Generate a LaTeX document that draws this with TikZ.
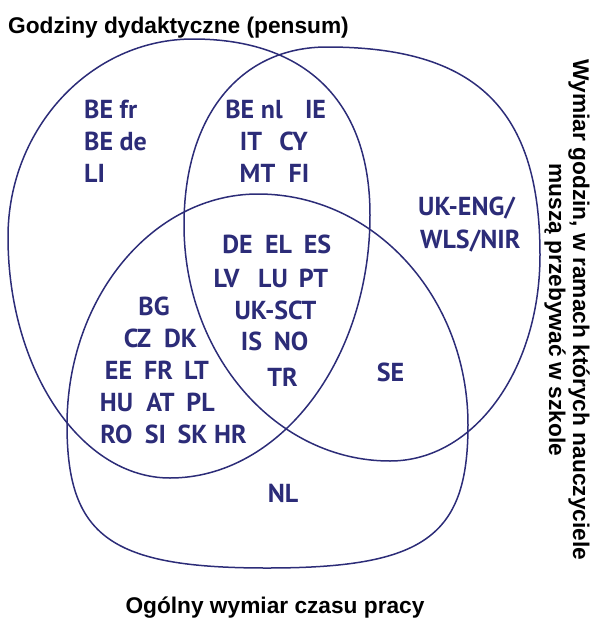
\documentclass[tikz,border=0pt]{standalone}
\usepackage{fontspec}
\setmainfont{Liberation Sans}
\newfontfamily\codefont{PT Sans}
\definecolor{navy}{RGB}{44,44,120}
\begin{document}
\begin{tikzpicture}[x=1pt,y=-1pt,
  venn/.style={draw=navy, line width=1.5pt},
  code/.style={text=navy, font=\codefont\bfseries\fontsize{26}{30}\selectfont, inner sep=0pt, anchor=base},
  codeL/.style={code, anchor=base west},
  heading/.style={font=\bfseries\fontsize{22.7}{26}\selectfont, inner sep=0pt}]
\useasboundingbox (0,0) rectangle (593,619);

% set: teaching hours
\draw[venn] (193,39) .. controls (306,39) and (370,102) .. (370,215)
  .. controls (370,360) and (280,478) .. (170,478)
  .. controls (81,478) and (8,370) .. (8,237)
  .. controls (8,128) and (91,39) .. cycle;
% set: hours to be spent at school
\draw[venn] (327,47) .. controls (476,47) and (540,109) .. (540,255)
  .. controls (540,370) and (474,461) .. (390,461)
  .. controls (276,461) and (184,355) .. (184,225)
  .. controls (184,116) and (240,47) .. cycle;
% set: total working time
\draw[venn] (258,194) .. controls (374,194) and (468,297) .. (468,425)
  .. controls (468,537) and (424,568) .. (267,568)
  .. controls (111,568) and (67,537) .. (67,425)
  .. controls (67,297) and (153,194) .. cycle;

% set titles
\node[heading, anchor=base west] (tA) at (8,33) {Godziny dydaktyczne (pensum)};
\node[heading, anchor=base] (tC) at (275,613) {Ogólny wymiar czasu pracy};
\node[heading, anchor=base, rotate=-90] (tB1) at (573,310) {Wymiar godzin, w ramach których nauczyciele};
\node[heading, anchor=base, rotate=-90] (tB2) at (549,310) {muszą przebywać w szkole};

% teaching hours only
\node[codeL] (befr) at (84,118) {BE fr};
\node[codeL] (bede) at (84,150) {BE de};
\node[codeL] (li) at (84,182) {LI};

% teaching hours and school hours
\node[code] (benl) at (254,118) {BE nl};
\node[code] (ie) at (315.5,118) {IE};
\node[code] (it) at (251,150) {IT};
\node[code] (cy) at (293.5,150) {CY};
\node[code] (mt) at (257.5,182) {MT};
\node[code] (fi) at (299,182) {FI};

% school hours only
\node[codeL] (ukeng) at (418,215) {UK-ENG/};
\node[codeL] (wls) at (420,248) {WLS/NIR};

% all three
\node[code] (de) at (237.5,253) {DE};
\node[code] (el) at (278.5,253) {EL};
\node[code] (es) at (317.5,253) {ES};
\node[code] (lv) at (226.5,287) {LV};
\node[code] (lu) at (273,287) {LU};
\node[code] (pt) at (313.5,287) {PT};
\node[code] (uksct) at (275.5,319) {UK-SCT};
\node[code] (is) at (251.5,350) {IS};
\node[code] (no) at (291,350) {NO};
\node[code] (tr) at (282.5,386) {TR};

% teaching hours and total working time
\node[code] (bg) at (154,315) {BG};
\node[code] (cz) at (137.5,347) {CZ};
\node[code] (dk) at (180.5,347) {DK};
\node[code] (ee) at (118.5,379) {EE};
\node[code] (fr) at (158.5,379) {FR};
\node[code] (lt) at (196.5,379) {LT};
\node[code] (hu) at (116.5,411) {HU};
\node[code] (at) at (160.5,411) {AT};
\node[code] (pl) at (200.5,411) {PL};
\node[code] (ro) at (116.5,443) {RO};
\node[code] (si) at (155.5,443) {SI};
\node[code] (sk) at (192.5,443) {SK};
\node[code] (hr) at (230.5,443) {HR};

% school hours and total working time
\node[code] (se) at (390.5,381) {SE};

% total working time only
\node[code] (nl) at (283,502) {NL};
\end{tikzpicture}
\end{document}
